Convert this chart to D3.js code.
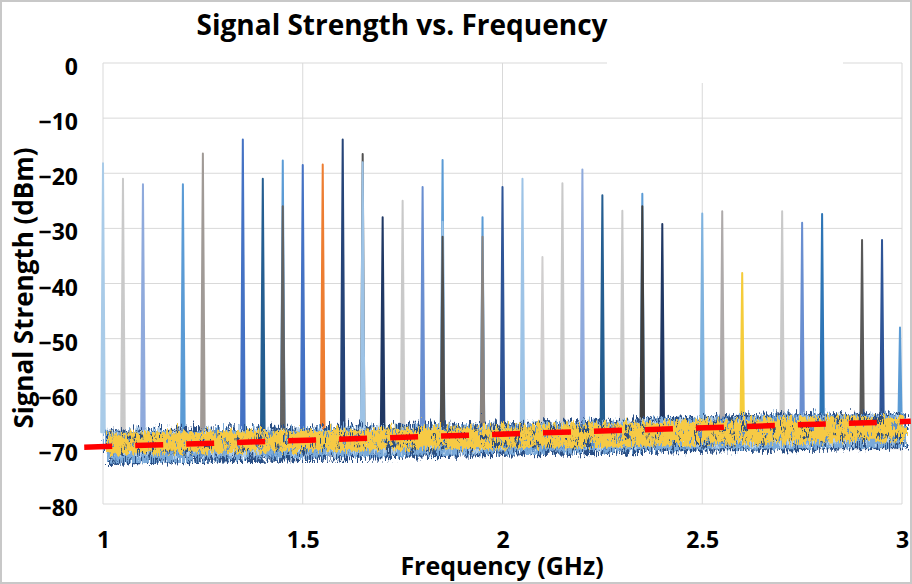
<!DOCTYPE html>
<html>
<head>
<meta charset="utf-8">
<script src="https://cdn.jsdelivr.net/npm/d3@7"></script>
<style>
  body { margin: 0; background: #fff; }
  text { font-family: "Open Sans", Lato, sans-serif; font-weight: bold; fill: #000; }
</style>
</head>
<body>
<div id="chart"></div>
<script>
// values
var xTicks = [1, 1.5, 2, 2.5, 3];
var yTicks = [0, -10, -20, -30, -40, -50, -60, -70, -80];

// carrier spikes, drawn in this order (later ones on top)
var spikeFreq = [1.00, 1.05, 1.10, 1.20, 1.25, 1.35, 1.40, 1.45, 1.45, 1.50, 1.55, 1.60, 1.65, 1.65,
                 1.70, 1.75, 1.80, 1.85, 1.85, 1.85, 1.95, 1.95, 2.00, 2.05, 2.10, 2.15, 2.20, 2.25,
                 2.30, 2.35, 2.35, 2.40, 2.50, 2.55, 2.60, 2.70, 2.75, 2.80, 2.90, 2.95, 2.995];
var spikePeak = [-18.2, -21, -22, -22, -16.4, -13.9, -21, -17.7, -26, -18.5, -18.4, -13.9, -16.5, -18,
                 -28, -25, -22.5, -17.6, -28.8, -31.5, -28, -31.5, -22.5, -21, -35.2, -21.8, -19.3, -24,
                 -26.8, -23.7, -26, -29.2, -27.3, -26.9, -38.1, -26.9, -29, -27.4, -32.1, -32.1, -48];
var spikeColor = ["#a9cbe8", "#c9c9c9", "#8faadc", "#5b9bd5", "#a09a96", "#4472c4", "#255e91", "#5b9bd5", "#636363",
                  "#4472c4", "#ed7d31", "#264478", "#505050", "#9dc3e6", "#203864", "#c9c9c9", "#698ed0",
                  "#5b9bd5", "#9dc3e6", "#505050", "#5b9bd5", "#8a8480", "#2f5597", "#9dc3e6", "#d0cece",
                  "#c9c9c9", "#8faadc", "#255e91", "#c9c9c9", "#5b9bd5", "#404040", "#203864", "#7fb2de",
                  "#aeaaaa", "#f5cc3a", "#c9c9c9", "#698ed0", "#2e75b6", "#595959", "#2f5597", "#5b9bd5"];

// noise floor envelopes (dBm) sampled every 0.25 GHz
var noiseFreq = [1, 1.25, 1.5, 1.75, 2, 2.25, 2.5, 2.75, 3];
var noiseHi   = [-65.8, -65.6, -65.4, -65.1, -64.8, -64.3, -63.6, -62.8, -62.8];
var noiseLo   = [-72.0, -71.6, -71.3, -70.9, -70.5, -70.2, -69.8, -69.5, -69.2];
var yellowHi  = [-66.4, -66.2, -65.9, -65.6, -65.2, -64.8, -64.3, -63.7, -63.5];
var yellowLo  = [-70.4, -70.1, -69.8, -69.5, -69.2, -68.9, -68.5, -68.2, -67.9];

// linear trend of the noise floor
var trendFreq = [0.953, 3.022];
var trendDb   = [-69.7, -65.0];

var svgWidth = 912, svgHeight = 584;
var margin = { top: 63, right: 10, bottom: 80, left: 103 };
var width = 902 - margin.left;
var height = 504 - margin.top;

var svg = d3.select("#chart").append("svg")
    .attr("width", svgWidth)
    .attr("height", svgHeight);

var defs = svg.append("defs");
// jagged edge texture for the noise bands
function jagFilter(id, seed, fx, scale) {
    var f = defs.append("filter").attr("id", id)
        .attr("x", "-2%").attr("y", "-60%").attr("width", "104%").attr("height", "220%");
    f.append("feTurbulence").attr("type", "turbulence")
        .attr("baseFrequency", fx + " 0.06").attr("numOctaves", 2).attr("seed", seed).attr("result", "t");
    f.append("feDisplacementMap").attr("in", "SourceGraphic").attr("in2", "t")
        .attr("scale", scale).attr("xChannelSelector", "B").attr("yChannelSelector", "G");
}
// speckled (holey) texture, used to mix the traces together
function speckFilter(id, seed, fx, fy, cut, scale) {
    var f = defs.append("filter").attr("id", id)
        .attr("x", "-2%").attr("y", "-60%").attr("width", "104%").attr("height", "220%");
    f.append("feTurbulence").attr("type", "fractalNoise")
        .attr("baseFrequency", fx + " " + fy).attr("numOctaves", 1).attr("seed", seed).attr("result", "n");
    f.append("feColorMatrix").attr("in", "n").attr("type", "matrix")
        .attr("values", `0 0 0 0 0  0 0 0 0 0  0 0 0 0 0  14 0 0 0 ${-14 * cut}`).attr("result", "m");
    f.append("feComposite").attr("in", "SourceGraphic").attr("in2", "m").attr("operator", "in").attr("result", "s");
    f.append("feTurbulence").attr("type", "turbulence")
        .attr("baseFrequency", "0.45 0.06").attr("numOctaves", 2).attr("seed", seed + 5).attr("result", "t");
    f.append("feDisplacementMap").attr("in", "s").attr("in2", "t")
        .attr("scale", scale).attr("xChannelSelector", "B").attr("yChannelSelector", "G");
}
jagFilter("jag1", 2, 0.4, 16);
jagFilter("jag2", 7, 0.5, 14);
jagFilter("jag4", 19, 0.3, 14);
speckFilter("speck1", 31, 0.2, 0.12, 0.6, 12);
speckFilter("speck2", 43, 0.25, 0.14, 0.63, 12);
speckFilter("speck3", 57, 0.22, 0.1, 0.55, 10);

svg.append("rect")
    .attr("x", 1).attr("y", 1).attr("width", svgWidth - 2).attr("height", svgHeight - 2)
    .attr("fill", "#fff").attr("stroke", "#c8c8c8").attr("stroke-width", 2);

var chartGroup = svg.append("g")
    .attr("transform", `translate(${margin.left}, ${margin.top})`);

var x = d3.scaleLinear().domain([1, 3]).range([0, width]);
var y = d3.scaleLinear().domain([-80, 0]).range([height, 0]);

// gridlines
chartGroup.append("g")
    .selectAll("line.h").data(yTicks).enter().append("line")
    .attr("x1", 0).attr("x2", width)
    .attr("y1", d => y(d)).attr("y2", d => y(d))
    .attr("stroke", "#d9d9d9").attr("stroke-width", 1);
chartGroup.append("g")
    .selectAll("line.v").data(xTicks).enter().append("line")
    .attr("x1", d => x(d)).attr("x2", d => x(d))
    .attr("y1", 0).attr("y2", height)
    .attr("stroke", "#d9d9d9").attr("stroke-width", 1);

// blank box that hides part of the top gridline
svg.append("rect")
    .attr("x", 607).attr("y", 3).attr("width", 236).attr("height", 80)
    .attr("fill", "#fff");

// axes (labels only)
var leftAxis = d3.axisLeft(y).tickValues(yTicks).tickSize(0).tickPadding(25);
var bottomAxis = d3.axisBottom(x).tickValues(xTicks).tickSize(0).tickPadding(28)
    .tickFormat(d3.format("~g"));

chartGroup.append("g").call(leftAxis)
    .call(g => g.select(".domain").remove())
    .selectAll("text").attr("dy", "0.5em")
    .style("font-size", "23px").style("font-family", "'Open Sans', sans-serif");
chartGroup.append("g").attr("transform", `translate(0, ${height})`).call(bottomAxis)
    .call(g => g.select(".domain").remove())
    .selectAll("text")
    .style("font-size", "23px").style("font-family", "'Open Sans', sans-serif");

// spikes
var spikes = spikeFreq.map((f, i) => ({ f: f, db: spikePeak[i], c: spikeColor[i] }));
var halfW = 0.0045;
chartGroup.append("g").attr("class", "spikes")
    .selectAll("path").data(spikes).enter().append("path")
    .attr("d", d => `M${x(d.f - halfW)},${y(-67)} L${x(d.f)},${y(d.db)} L${x(d.f + halfW)},${y(-67)} Z`)
    .attr("fill", d => d.c)
    .attr("stroke", d => d.c)
    .attr("stroke-width", 2)
    .attr("stroke-linejoin", "round");

// noise floor bands
var noise = noiseFreq.map((f, i) => ({ f: f, hi: noiseHi[i], lo: noiseLo[i], yh: yellowHi[i], yl: yellowLo[i] }));
function band(lo, hi) {
    return d3.area().x(d => x(d.f)).y0(d => y(lo(d))).y1(d => y(hi(d))).curve(d3.curveMonotoneX);
}
var noiseG = chartGroup.append("g").attr("class", "noise");
noiseG.append("path").datum(noise)
    .attr("d", band(d => d.lo, d => d.hi))
    .attr("fill", "#2a4f86").attr("filter", "url(#jag1)");
noiseG.append("path").datum(noise)
    .attr("d", band(d => d.lo + 0.4, d => d.hi - 0.3))
    .attr("fill", "#7aaad9").attr("filter", "url(#jag2)");
noiseG.append("path").datum(noise)
    .attr("d", band(d => d.lo + 0.3, d => d.hi - 0.2))
    .attr("fill", "#b4cfe8").attr("filter", "url(#speck3)");
noiseG.append("path").datum(noise)
    .attr("d", band(d => d.yl, d => d.yh))
    .attr("fill", "#f6ca45").attr("filter", "url(#jag4)");
noiseG.append("path").datum(noise)
    .attr("d", band(d => d.lo + 0.2, d => d.hi - 0.1))
    .attr("fill", "#2c4d7e").attr("filter", "url(#speck1)");
noiseG.append("path").datum(noise)
    .attr("d", band(d => d.lo + 0.5, d => d.hi - 0.4))
    .attr("fill", "#5b8fc8").attr("filter", "url(#speck2)");

// trend line
var trend = trendFreq.map((f, i) => ({ f: f, db: trendDb[i] }));
chartGroup.append("path").datum(trend)
    .attr("d", d3.line().x(d => x(d.f)).y(d => y(d.db)))
    .attr("fill", "none")
    .attr("stroke", "#ff0000")
    .attr("stroke-width", 5.5)
    .attr("stroke-dasharray", "28,23");

// titles
svg.append("text")
    .attr("x", 402).attr("y", 35)
    .attr("text-anchor", "middle")
    .style("font-size", "28px")
    .text("Signal Strength vs. Frequency");

svg.append("text")
    .attr("transform", "translate(33, 288) rotate(-90)")
    .attr("text-anchor", "middle")
    .style("font-size", "26px")
    .text("Signal Strength (dBm)");

svg.append("text")
    .attr("x", 502).attr("y", 575)
    .attr("text-anchor", "middle")
    .style("font-size", "25px")
    .text("Frequency (GHz)");
</script>
</body>
</html>
